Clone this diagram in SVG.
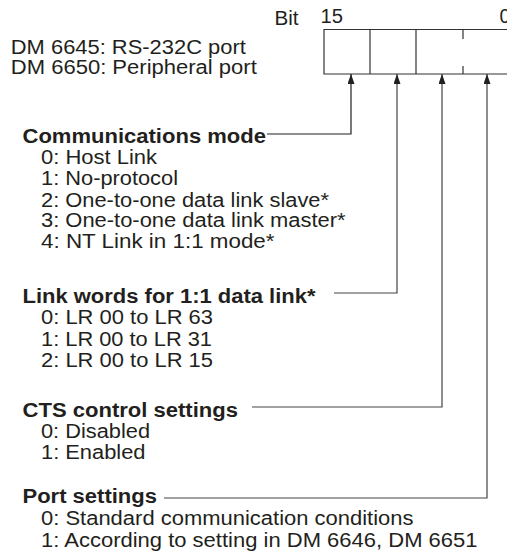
<svg xmlns="http://www.w3.org/2000/svg" width="507" height="554" viewBox="0 0 507 554">
<style>
text{font-family:"Liberation Sans",Arial,Helvetica,sans-serif;font-size:19.5px;fill:#231f20}
.b{font-weight:bold}
.ln{fill:none;stroke:#333;stroke-width:1.2}
.conn{fill:none;stroke:#444;stroke-width:1.2}
</style>
<defs>
<marker id="ah" viewBox="0 0 10 7" refX="10" refY="3.5" markerWidth="10" markerHeight="7" markerUnits="userSpaceOnUse" orient="auto-start-reverse">
<path d="M0,0 L10,3.5 L0,7 z" fill="#231f20"/>
</marker>
</defs>
<rect width="507" height="554" fill="#fff"/>
<g id="header">
<text x="274.5" y="25" textLength="24" lengthAdjust="spacingAndGlyphs">Bit</text>
<text x="320.5" y="23" textLength="22.5" lengthAdjust="spacingAndGlyphs">15</text>
<text x="499.5" y="23">0</text>
<text x="10.8" y="54" textLength="235" lengthAdjust="spacingAndGlyphs">DM 6645: RS-232C port</text>
<text x="10.8" y="73.5" textLength="246" lengthAdjust="spacingAndGlyphs">DM 6650: Peripheral port</text>
</g>
<g id="register">
<path class="ln" d="M515,29.5 H324 V74 H515"/>
<path class="ln" d="M370,29.5 V74 M416,29.5 V74 M463,29.5 V39 M463,66 V74"/>
</g>
<g id="connectors">
<path class="conn" style="stroke:#231f20" marker-start="url(#ah)" d="M351,74 V134 H267"/>
<path class="conn" marker-start="url(#ah)" d="M397,74 V293 H334"/>
<path class="conn" marker-start="url(#ah)" d="M442,74 V407 H252"/>
<path class="conn" marker-start="url(#ah)" d="M487,74 V498 H164"/>
</g>
<g id="comm-mode">
<text class="b" x="22.5" y="143.3" textLength="243.5" lengthAdjust="spacingAndGlyphs">Communications mode</text>
<text x="41" y="164.3" textLength="116" lengthAdjust="spacingAndGlyphs">0: Host Link</text>
<text x="41" y="185.3" textLength="137" lengthAdjust="spacingAndGlyphs">1: No-protocol</text>
<text x="41" y="206.5" textLength="288" lengthAdjust="spacingAndGlyphs">2: One-to-one data link slave*</text>
<text x="41" y="227.3" textLength="304.5" lengthAdjust="spacingAndGlyphs">3: One-to-one data link master*</text>
<text x="41" y="247.8" textLength="233.5" lengthAdjust="spacingAndGlyphs">4: NT Link in 1:1 mode*</text>
</g>
<g id="link-words">
<text class="b" x="22.5" y="302.7" textLength="293" lengthAdjust="spacingAndGlyphs">Link words for 1:1 data link*</text>
<text x="41" y="324.3" textLength="172" lengthAdjust="spacingAndGlyphs">0: LR 00 to LR 63</text>
<text x="41" y="345.7" textLength="171" lengthAdjust="spacingAndGlyphs">1: LR 00 to LR 31</text>
<text x="41" y="367.3" textLength="172" lengthAdjust="spacingAndGlyphs">2: LR 00 to LR 15</text>
</g>
<g id="cts">
<text class="b" x="22.5" y="416.7" textLength="215.5" lengthAdjust="spacingAndGlyphs">CTS control settings</text>
<text x="41" y="437.7" textLength="109" lengthAdjust="spacingAndGlyphs">0: Disabled</text>
<text x="41" y="459" textLength="104.5" lengthAdjust="spacingAndGlyphs">1: Enabled</text>
</g>
<g id="port-settings">
<text class="b" x="22.5" y="502.7" textLength="134.5" lengthAdjust="spacingAndGlyphs">Port settings</text>
<text x="41" y="525" textLength="372.5" lengthAdjust="spacingAndGlyphs">0: Standard communication conditions</text>
<text x="41" y="546.7" textLength="436.5" lengthAdjust="spacingAndGlyphs">1: According to setting in DM 6646, DM 6651</text>
</g>
</svg>
